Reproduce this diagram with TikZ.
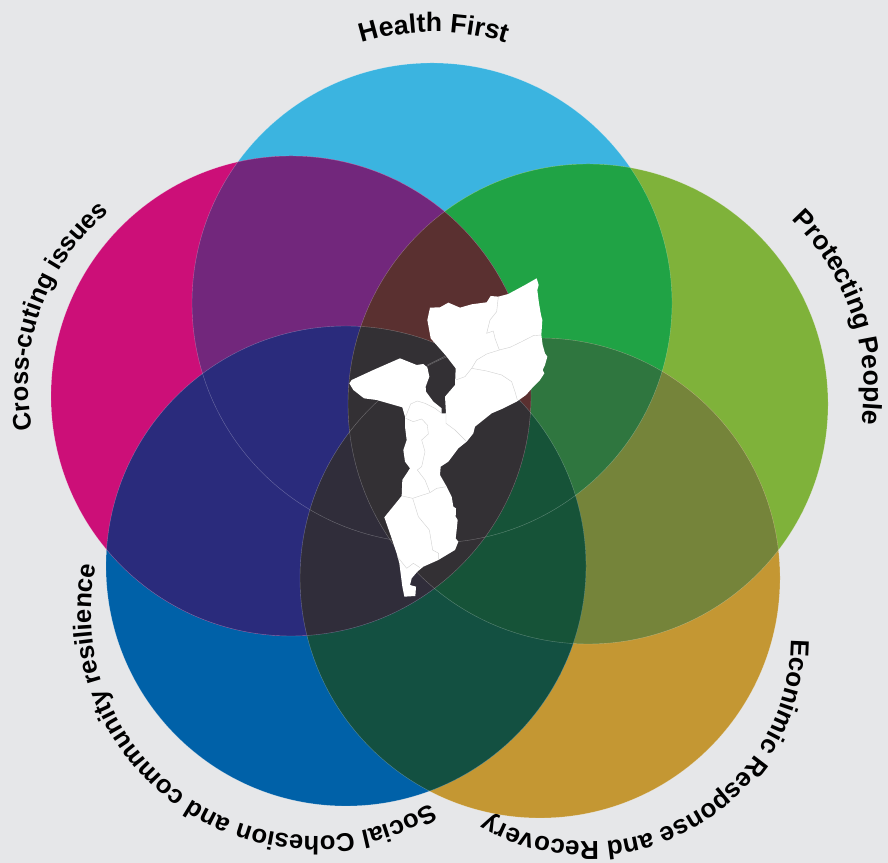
\documentclass[tikz,border=0pt]{standalone}
\usepackage{fontspec}
\setmainfont{Liberation Sans}
\usetikzlibrary{decorations.text}

\definecolor{pagebg}{HTML}{E6E7E9}
\definecolor{healthblue}{HTML}{3BB4E0}
\definecolor{protectgreen}{HTML}{7FB23A}
\definecolor{economygold}{HTML}{C49733}
\definecolor{socialblue}{HTML}{0061A8}
\definecolor{crossmagenta}{HTML}{CC0F78}
\definecolor{healthprotect}{HTML}{20A345}
\definecolor{protecteconomy}{HTML}{75843A}
\definecolor{economysocial}{HTML}{135041}
\definecolor{socialcross}{HTML}{2A2B7C}
\definecolor{crosshealth}{HTML}{72277C}
\definecolor{threegreen}{HTML}{2F763F}
\definecolor{threedark}{HTML}{165338}
\definecolor{threebrown}{HTML}{5A3030}
\definecolor{threenavy}{HTML}{302D3A}
\definecolor{threegrey}{HTML}{333034}

\newcommand{\circrad}{240}
\newcommand{\labelfont}[1]{\bfseries\fontsize{#1}{24}\selectfont}
% colour, then three circle centres (the last is filled, the others clip)
\newcommand{\overlap}[4]{
  \begin{scope}
    \clip (#2) circle (\circrad);
    \clip (#3) circle (\circrad);
    \fill[#1] (#4) circle (\circrad);
  \end{scope}
}
% centre, radius, start angle, end angle, font size, text
\newcommand{\arclabel}[6]{
  \path[decorate, shift={(#1)},
    decoration={text along path, text align=center, text={|\labelfont{#5}|#6}}]
    (#3:#2) arc[start angle=#3, end angle=#4, radius=#2];
}
\tikzset{
  ringline/.style={draw=white, draw opacity=0.3, line width=0.3pt},
  borderline/.style={draw=black!18, line width=0.3pt, line join=round}
}

\begin{document}
\begin{tikzpicture}[x=0.75pt, y=0.75pt]
\useasboundingbox (0,0) rectangle (888,863);
\fill[pagebg] (0,0) rectangle (888,863);

\coordinate (health) at (432,560);
\coordinate (protect) at (588,459);
\coordinate (economy) at (540,285);
\coordinate (social) at (346,297);
\coordinate (cross) at (291,467);

\fill[healthblue] (health) circle (\circrad);
\fill[protectgreen] (protect) circle (\circrad);
\fill[economygold] (economy) circle (\circrad);
\fill[socialblue] (social) circle (\circrad);
\fill[crossmagenta] (cross) circle (\circrad);

% two circles
\overlap{healthprotect}{health}{health}{protect}
\overlap{protecteconomy}{protect}{protect}{economy}
\overlap{economysocial}{economy}{economy}{social}
\overlap{crosshealth}{cross}{cross}{health}
\overlap{socialcross}{social}{social}{cross}
% three circles
\overlap{threegreen}{health}{protect}{economy}
\overlap{threedark}{protect}{economy}{social}
\overlap{threebrown}{cross}{health}{protect}
\overlap{threenavy}{economy}{social}{cross}
\overlap{threegrey}{protect}{social}{cross}

\foreach \c in {health,protect,economy,social,cross}
  \draw[ringline] (\c) circle (\circrad);

% map, coordinates taken at 3x from the corner (340,270)
\begin{scope}[shift={(340,593)}, x=0.25pt, y=-0.25pt]
\fill[white] (590,25) -- (596,45) -- (592,60) -- (597,100) -- (603,135) -- (607,150)
  -- (604,195) -- (608,225) -- (615,250) -- (622,260) -- (615,285) -- (608,300)
  -- (613,310) -- (600,330) -- (580,350) -- (558,375) -- (530,395) -- (490,415)
  -- (455,430) -- (430,450) -- (405,470) -- (400,490) -- (380,515) -- (355,535)
  -- (325,575) -- (302,590) -- (300,615) -- (320,650) -- (335,680) -- (340,710)
  -- (348,715) -- (347,740) -- (353,750) -- (350,780) -- (347,805) -- (355,815)
  -- (345,840) -- (320,855) -- (295,870) -- (250,890) -- (232,905) -- (215,925)
  -- (210,945) -- (228,950) -- (226,978) -- (193,980) -- (187,950) -- (178,880)
  -- (170,850) -- (155,805) -- (133,742) -- (185,678) -- (187,630) -- (210,595)
  -- (195,575) -- (190,540) -- (200,510) -- (195,470) -- (195,440) -- (187,412)
  -- (110,390) -- (72,385) -- (40,360) -- (28,340) -- (35,330) -- (100,300)
  -- (180,265) -- (205,275) -- (230,285) -- (250,282) -- (262,292) -- (268,320)
  -- (257,350) -- (258,365) -- (280,395) -- (305,415) -- (305,430) -- (318,430)
  -- (315,380) -- (345,345) -- (347,295) -- (316,255) -- (272,205) -- (262,150)
  -- (270,113) -- (300,112) -- (325,98) -- (360,113) -- (395,103) -- (440,97)
  -- (452,78) -- (475,80) -- (505,72) -- (555,45) -- cycle;
\draw[borderline] (475,80) -- (470,125) -- (450,150) -- (440,190) -- (460,183) -- (465,205) -- (478,240);
\draw[borderline] (604,195) -- (580,197) -- (545,215) -- (510,232) -- (478,240) -- (440,252)
  -- (410,270) -- (395,295) -- (375,320) -- (347,330);
\draw[borderline] (395,295) -- (440,303) -- (485,315) -- (515,335) -- (525,365) -- (532,390);
\draw[borderline] (318,430) -- (318,460) -- (345,480) -- (380,515);
\draw[borderline] (305,430) -- (285,415) -- (255,400) -- (232,393) -- (212,402) -- (197,440);
\draw[borderline] (197,445) -- (220,455) -- (245,447) -- (262,465) -- (265,492) -- (245,510)
  -- (255,545) -- (245,590) -- (232,600) -- (255,630) -- (270,668);
\draw[borderline] (187,678) -- (218,685) -- (270,668) -- (290,655) -- (320,650);
\draw[borderline] (218,685) -- (235,740) -- (268,780) -- (278,840) -- (296,850) -- (296,868);
\draw[borderline] (172,860) -- (200,895) -- (220,880) -- (240,893);
\draw[ringline] (262,285) -- (316,258);
\end{scope}

\coordinate (healtharc) at (434,588);
\coordinate (protectarc) at (626,472);
\coordinate (economyarc) at (588,224);
\coordinate (socialarc) at (314,250);
\coordinate (crossarc) at (250,479);

\arclabel{healtharc}{243}{120}{60}{20}{Health First}
\arclabel{protectarc}{238}{59}{-21}{19.8}{Protecting People}
\arclabel{economyarc}{203}{10}{-130}{19.5}{Econimic Response and Recovery}
\arclabel{socialarc}{223}{-50.5}{-200.5}{19.2}{Social Cohesion and community resilience}
\arclabel{crossarc}{222}{205.5}{115.5}{19}{Cross-cuting issues}
\end{tikzpicture}
\end{document}
